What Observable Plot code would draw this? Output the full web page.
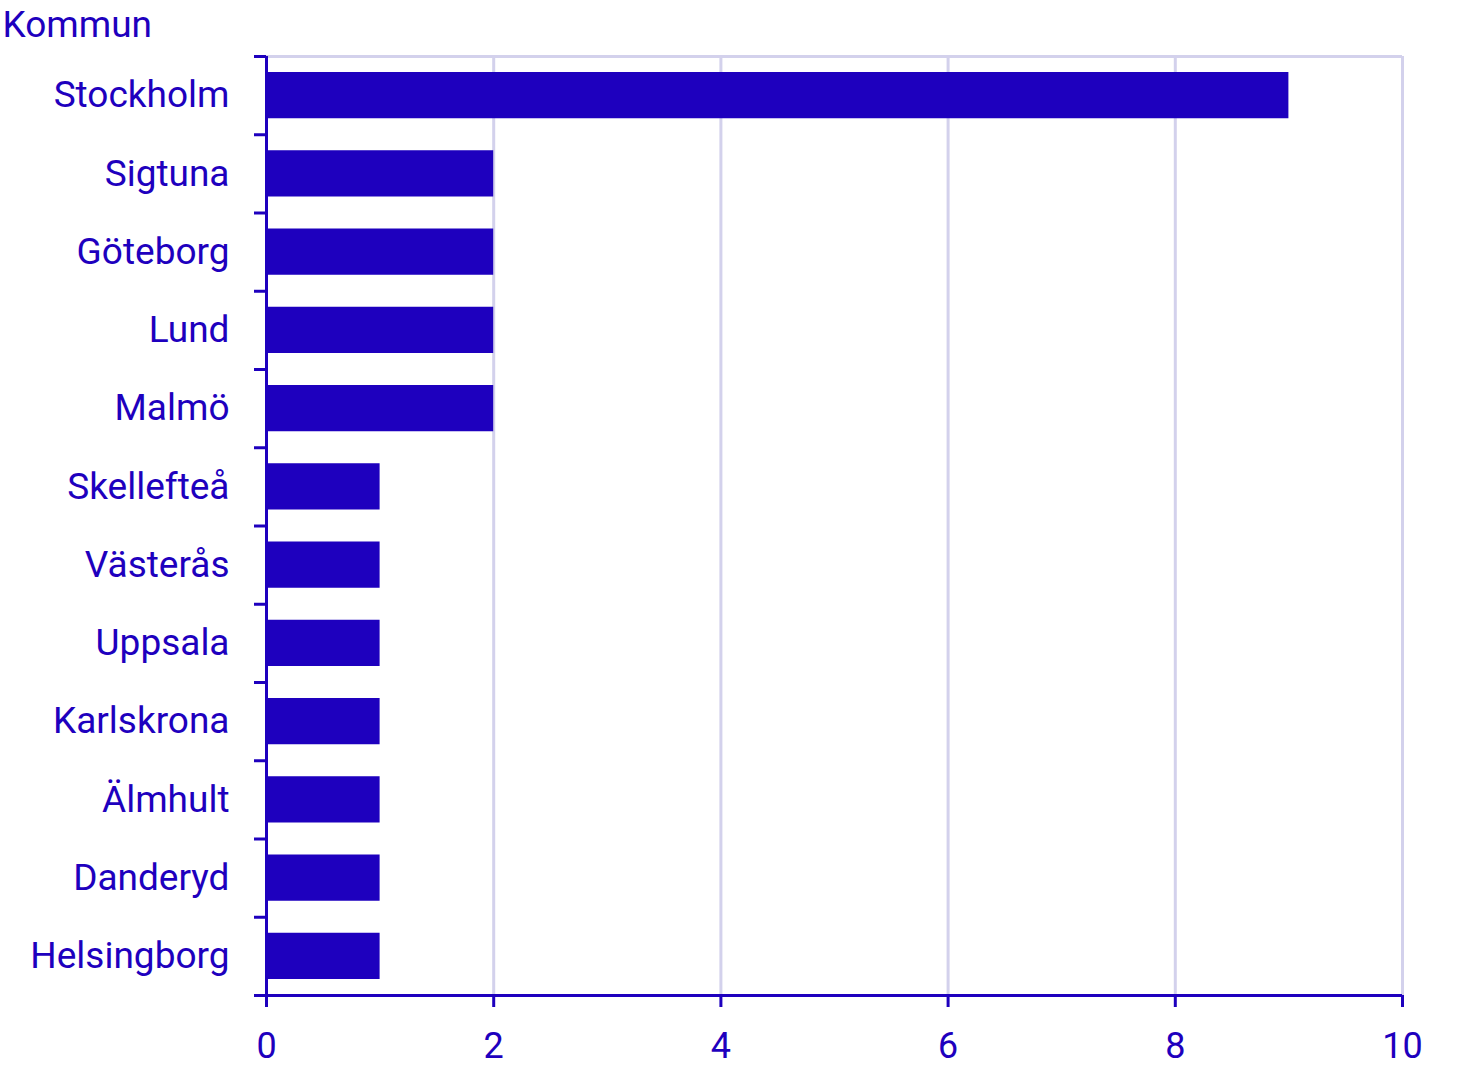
<!DOCTYPE html>
<html>
<head>
<meta charset="utf-8">
<script src="https://cdn.jsdelivr.net/npm/d3@7"></script>
<script src="https://cdn.jsdelivr.net/npm/@observablehq/plot@0.6"></script>
<style>
  html, body { margin: 0; padding: 0; background: #fff; }
</style>
</head>
<body>
<div id="chart"></div>
<script>
const kommuner = ["Stockholm","Sigtuna","Göteborg","Lund","Malmö","Skellefteå","Västerås","Uppsala","Karlskrona","Älmhult","Danderyd","Helsingborg"];
const antal = [9,2,2,2,2,1,1,1,1,1,1,1];
const xTicks = [0,2,4,6,8,10];
const axisTitle = "Kommun";

const ink = "#1e00be";
const grid = "#d3d1ec";

const data = kommuner.map((k, i) => ({kommun: k, idx: i, value: antal[i]}));

const chart = Plot.plot({
  width: 1473,
  height: 1086,
  marginLeft: 266,
  marginRight: 71,
  marginTop: 56,
  marginBottom: 91,
  x: {domain: [0, 10]},
  y: {domain: [0, kommuner.length], reverse: true},
  style: {fontFamily: "Roboto", fontSize: "37px", color: ink, background: "#fff"},
  marks: [
    Plot.gridX(xTicks.filter(d => d > 0), {stroke: grid, strokeOpacity: 1, strokeWidth: 3}),
    Plot.ruleY([0], {stroke: grid, strokeWidth: 3}),
    Plot.rectX(data, {x1: 0, x2: "value", y1: "idx", y2: d => d.idx + 1, insetTop: 16, insetBottom: 16, fill: ink}),
    Plot.ruleX([0], {stroke: ink, strokeWidth: 3}),
    Plot.ruleY([kommuner.length], {stroke: ink, strokeWidth: 3}),
    Plot.axisY(d3.range(kommuner.length + 1), {tickSize: 12, tickFormat: () => "", stroke: ink, strokeWidth: 3, label: null}),
    Plot.axisY(kommuner.map((_, i) => i + 0.5), {tickSize: 0, tickPadding: 37, tickFormat: d => kommuner[Math.floor(d)], fill: ink, fontSize: 37, label: null}),
    Plot.axisX(xTicks, {tickSize: 12, tickPadding: 25, tickFormat: d => String(d), stroke: ink, strokeWidth: 3, fill: ink, fontSize: 36, label: null}),
    Plot.text([axisTitle], {frameAnchor: "top-left", dx: -264, dy: -31, text: d => d, textAnchor: "start", lineAnchor: "middle", fill: ink, fontSize: 37})
  ]
});
document.getElementById("chart").appendChild(chart);
</script>
</body>
</html>
